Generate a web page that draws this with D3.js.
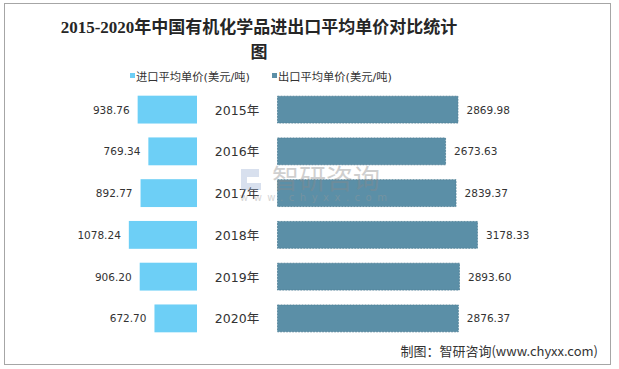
<!DOCTYPE html>
<html><head><meta charset="utf-8">
<script src="https://cdn.jsdelivr.net/npm/d3@7/dist/d3.min.js"></script>
<style>body{margin:0;background:#fff}svg{display:block}</style>
</head><body>
<svg id="c" width="619" height="369"></svg>
<script>
const years = ["2015年","2016年","2017年","2018年","2019年","2020年"];
const importPrice = [938.76, 769.34, 892.77, 1078.24, 906.20, 672.70];
const exportPrice = [2869.98, 2673.63, 2839.37, 3178.33, 2893.60, 2876.37];
const seriesNames = ["进口平均单价(美元/吨)", "出口平均单价(美元/吨)"];
const colors = ["#6DCFF6", "#5B8FA7"];

const svg = d3.select("#c");
svg.append("rect").attr("x",4.5).attr("y",3.5).attr("width",606).attr("height",361)
  .attr("fill","#fff").attr("stroke","#a6a6a6").attr("stroke-width",1);

function fit(sel, target){
  const n = sel.node();
  const fs = parseFloat(sel.attr("font-size"));
  const w = n.getComputedTextLength();
  if (w > 0) sel.attr("font-size", (fs*target/w).toFixed(2));
  return sel;
}

// title
const t1 = svg.append("text").attr("text-anchor","middle")
  .attr("font-family","'Liberation Serif','Noto Sans CJK SC',serif")
  .attr("font-weight","bold").attr("font-size",18).attr("fill","#262626")
  .attr("x",259).attr("y",33).text("2015-2020年中国有机化学品进出口平均单价对比统计");
fit(t1, 397);
svg.append("text").attr("text-anchor","middle")
  .attr("font-family","'Liberation Serif','Noto Sans CJK SC',serif")
  .attr("font-weight","bold").attr("font-size",t1.attr("font-size")).attr("fill","#262626")
  .attr("x",259).attr("y",58).text("图");

// legend
const lg = svg.append("g").attr("font-family","'DejaVu Sans','Noto Sans CJK SC',sans-serif").attr("fill","#333");
const legX = [130, 272];
seriesNames.forEach((n,i)=>{
  lg.append("rect").attr("x",legX[i]).attr("y",73).attr("width",5).attr("height",5).attr("fill",colors[i]);
  const t = lg.append("text").attr("x",legX[i]+6).attr("y",81).attr("font-size",12).text(n);
  fit(t, 114);
});

// scales
const y = d3.scaleBand().domain(years).range([89, 339]).paddingInner(0.333).paddingOuter(0.16);
const x = d3.scaleLinear().domain([0, 3500]).range([0, 221.3]);
const leftEnd = 197, rightStart = 277;

const g = svg.append("g");
g.selectAll(".imp").data(years).join("rect")
  .attr("x",(d,i)=>leftEnd - x(importPrice[i])).attr("y",d=>y(d))
  .attr("width",(d,i)=>x(importPrice[i])).attr("height",y.bandwidth()).attr("fill",colors[0]);
g.selectAll(".exp").data(years).join("rect")
  .attr("x",rightStart+0.5).attr("y",d=>y(d)+0.5)
  .attr("width",(d,i)=>x(exportPrice[i])-1).attr("height",y.bandwidth()-1).attr("fill",colors[1])
  .attr("stroke","#4f7f96").attr("stroke-width",0.8).attr("stroke-dasharray","2,1");

const lf = "'DejaVu Sans','Noto Sans',sans-serif";
g.selectAll(".il").data(years).join("text")
  .attr("x",(d,i)=>leftEnd - x(importPrice[i]) - 8).attr("y",d=>y(d)+y.bandwidth()/2+4)
  .attr("text-anchor","end").attr("font-family",lf).attr("font-size",10.5).attr("fill","#333")
  .text((d,i)=>importPrice[i].toFixed(2));
g.selectAll(".el").data(years).join("text")
  .attr("x",(d,i)=>rightStart + x(exportPrice[i]) + 8).attr("y",d=>y(d)+y.bandwidth()/2+4)
  .attr("font-family",lf).attr("font-size",10.5).attr("fill","#333")
  .text((d,i)=>exportPrice[i].toFixed(2));
g.selectAll(".yl").data(years).join("text")
  .attr("x",237).attr("y",d=>y(d)+y.bandwidth()/2+5)
  .attr("text-anchor","middle").attr("font-family","'DejaVu Sans','Noto Sans CJK SC',sans-serif").attr("font-size",12.5).attr("fill","#333")
  .text(d=>d);

// watermark (on top, translucent)
const wm = svg.append("g").attr("opacity",0.4);
wm.append("path").attr("d","M241,169 h18 v8 h-12 v4 h-6 z M247,183 h14 v7 h-20 v-10 h6 z").attr("fill","#9fb3d6");
const w1 = wm.append("text").attr("x",272).attr("y",189).attr("font-family","'Noto Sans CJK SC',sans-serif")
  .attr("font-size",25).attr("fill","#8a8a8a").text("智研咨询");
fit(w1, 108);
wm.append("text").attr("x",240).attr("y",201).attr("font-family","'DejaVu Sans',sans-serif")
  .attr("font-size",10).attr("fill","#999").attr("letter-spacing",5.5).text("www.chyxx.com");

svg.append("text").attr("x",598).attr("y",356).attr("text-anchor","end")
  .attr("font-family","'Noto Sans CJK SC',sans-serif").attr("font-size",13).attr("fill","#333")
  .text("制图：智研咨询(www.chyxx.com)");
</script>
</body></html>
